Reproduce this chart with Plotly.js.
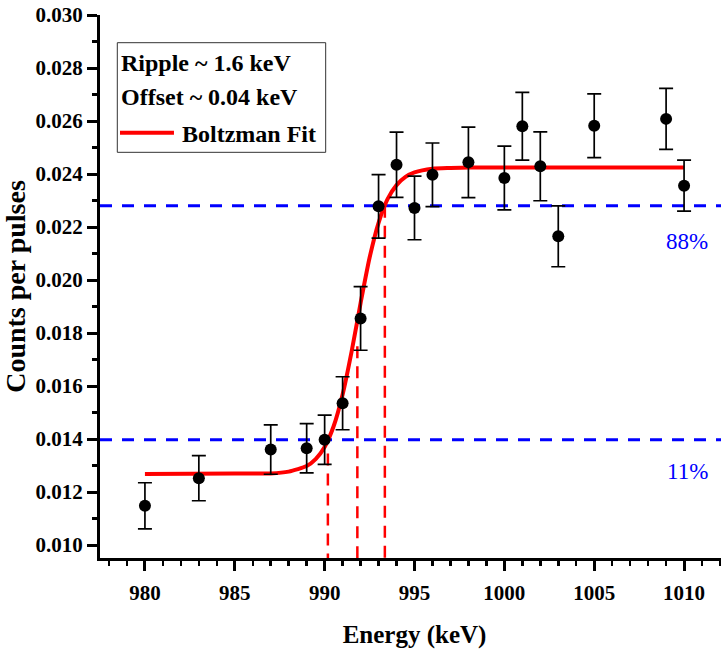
<!DOCTYPE html>
<html>
<head>
<meta charset="utf-8">
<script src="https://cdn.plot.ly/plotly-3.0.1.min.js"></script>
<style>
html, body { margin: 0; padding: 0; overflow: hidden; background: #fff; }
#chart { width: 729px; height: 653px; }
</style>
</head>
<body>
<div id="chart"></div>
<script>
// Measured data points (Energy in keV, counts per pulse, error)
var energy = [980, 983, 987, 989, 990, 991, 992, 993, 994, 995, 996, 998, 1000, 1001, 1002, 1003, 1005, 1009, 1010];
var counts = [0.01148, 0.01252, 0.0136, 0.01365, 0.01397, 0.01535, 0.01855, 0.02278, 0.02435, 0.02272, 0.02397, 0.02444, 0.02385, 0.0258, 0.02429, 0.02165, 0.02582, 0.02608, 0.02356];
var countErrors = [0.00087, 0.00085, 0.00093, 0.00093, 0.00093, 0.001, 0.0012, 0.0012, 0.00123, 0.0012, 0.0012, 0.00133, 0.0012, 0.00128, 0.0013, 0.00115, 0.0012, 0.00115, 0.00096];

// Boltzmann fit curve
var fitEnergy = [980, 985, 987, 988, 989, 989.5, 990, 990.5, 991, 991.5, 992, 992.5, 993, 993.5, 994, 994.5, 995, 996, 997, 998, 1010];
var fitCounts = [0.01268, 0.0127, 0.0127, 0.01277, 0.01298, 0.01324, 0.0137, 0.01448, 0.01568, 0.0173, 0.01913, 0.02084, 0.02216, 0.02305, 0.02358, 0.02389, 0.02406, 0.0242, 0.02423, 0.02425, 0.02425];

// Threshold levels (blue) and their labels
var levelValues = [0.0228, 0.01397];
var levelLabels = ['88%', '11%'];
var levelLabelY = [0.02147, 0.01277];

// Vertical markers (red): energy and top value
var markerEnergy = [990.18, 991.82, 993.35];
var markerTop = [0.01345, 0.0175, 0.0228];

// Legend texts
var legendTexts = ['Ripple ~ 1.6 keV', 'Offset ~ 0.04 keV', 'Boltzman Fit'];

var xRange = [977.5, 1012.5];
var yRange = [0.00951, 0.030];

var FONT = 'Liberation Serif, Times New Roman, serif';

var traces = [
  {
    x: fitEnergy, y: fitCounts, type: 'scatter', mode: 'lines',
    line: { color: '#ff0000', width: 4, shape: 'spline', smoothing: 0.6 },
    hoverinfo: 'skip', showlegend: false
  },
  {
    x: energy, y: counts, type: 'scatter', mode: 'markers',
    marker: { color: '#000000', size: 12 },
    error_y: { type: 'data', array: countErrors, visible: true, color: '#000000', thickness: 1.7, width: 7 },
    showlegend: false
  }
];

var shapes = [];
levelValues.forEach(function (v) {
  shapes.push({ type: 'line', layer: 'below', xref: 'paper', x0: 0, x1: 1, yref: 'y', y0: v, y1: v,
    line: { color: '#0000ff', width: 3, dash: '12px,10px' } });
});
markerEnergy.forEach(function (e, i) {
  shapes.push({ type: 'line', layer: 'below', xref: 'x', x0: e, x1: e, yref: 'y', y0: markerTop[i], y1: yRange[0],
    line: { color: '#ff0000', width: 2.5, dash: '12px,8px' } });
});
// legend box
shapes.push({ type: 'rect', layer: 'above', xref: 'paper', yref: 'paper', x0: 0.0275, x1: 0.3588, y0: 0.7471, y1: 0.949,
  line: { color: '#333333', width: 1 }, fillcolor: 'rgba(255,255,255,0)' });
// legend sample line
shapes.push({ type: 'line', layer: 'above', xref: 'paper', yref: 'paper', x0: 0.0318, x1: 0.1176, y0: 0.7833, y1: 0.7833,
  line: { color: '#ff0000', width: 4 } });

var annotations = [
  { text: legendTexts[0], xref: 'paper', yref: 'paper', x: 0.031, y: 0.9116, xanchor: 'left', yanchor: 'middle', showarrow: false,
    font: { family: FONT, size: 24, color: '#000', weight: 'bold' } },
  { text: legendTexts[1], xref: 'paper', yref: 'paper', x: 0.031, y: 0.849, xanchor: 'left', yanchor: 'middle', showarrow: false,
    font: { family: FONT, size: 24, color: '#000', weight: 'bold' } },
  { text: legendTexts[2], xref: 'paper', yref: 'paper', x: 0.1265, y: 0.780, xanchor: 'left', yanchor: 'middle', showarrow: false,
    font: { family: FONT, size: 24, color: '#000', weight: 'bold' } }
];
levelLabels.forEach(function (t, i) {
  annotations.push({ text: t, xref: 'paper', yref: 'y', x: 0.9698, y: levelLabelY[i], xanchor: 'right', yanchor: 'middle', showarrow: false,
    font: { family: FONT, size: 23, color: '#0000ff' } });
});

var tickFont = { family: FONT, size: 21, color: '#000', weight: 'bold' };

var layout = {
  width: 729, height: 653,
  margin: { l: 100, r: 0, t: 15, b: 95, pad: 0 },
  paper_bgcolor: '#fff', plot_bgcolor: '#fff',
  showlegend: false,
  xaxis: {
    range: xRange, showgrid: false, zeroline: false,
    showline: true, linecolor: '#000', linewidth: 3,
    ticks: 'outside', ticklen: 10, tickwidth: 3, tickcolor: '#000',
    tick0: 980, dtick: 5, tickfont: tickFont, ticklabelstandoff: 4,
    minor: { dtick: 1, ticks: 'outside', ticklen: 5, tickwidth: 2.5, tickcolor: '#000' },
    title: { text: 'Energy (keV)', font: { family: FONT, size: 25, color: '#000', weight: 'bold' }, standoff: 22 }
  },
  yaxis: {
    range: yRange, showgrid: false, zeroline: false,
    showline: true, linecolor: '#000', linewidth: 3,
    ticks: 'outside', ticklen: 10, tickwidth: 3, tickcolor: '#000',
    tick0: 0.010, dtick: 0.002, tickformat: '.3f', tickfont: tickFont,
    minor: { dtick: 0.001, ticks: 'outside', ticklen: 5, tickwidth: 2.5, tickcolor: '#000' },
    title: { text: 'Counts per pulses', font: { family: FONT, size: 28, color: '#000', weight: 'bold' }, standoff: 4 }
  },
  xaxis2: {
    range: xRange, overlaying: 'x', side: 'top', anchor: 'y',
    showgrid: false, zeroline: false, showticklabels: false,
    showline: true, linecolor: '#000', linewidth: 3,
    ticks: 'inside', ticklen: 9, tickwidth: 3, tickcolor: '#000', tick0: 980, dtick: 5,
    minor: { dtick: 1, ticks: 'inside', ticklen: 4, tickwidth: 2.5, tickcolor: '#000' }
  },
  yaxis2: {
    range: yRange, overlaying: 'y', side: 'right', anchor: 'x',
    showgrid: false, zeroline: false, showticklabels: false,
    showline: true, linecolor: '#000', linewidth: 3,
    ticks: 'inside', ticklen: 9, tickwidth: 3, tickcolor: '#000', tick0: 0.010, dtick: 0.002,
    minor: { dtick: 0.001, ticks: 'inside', ticklen: 4, tickwidth: 2.5, tickcolor: '#000' }
  },
  shapes: shapes,
  annotations: annotations
};

Plotly.newPlot('chart', traces, layout, { displayModeBar: false, staticPlot: true });
</script>
</body>
</html>
